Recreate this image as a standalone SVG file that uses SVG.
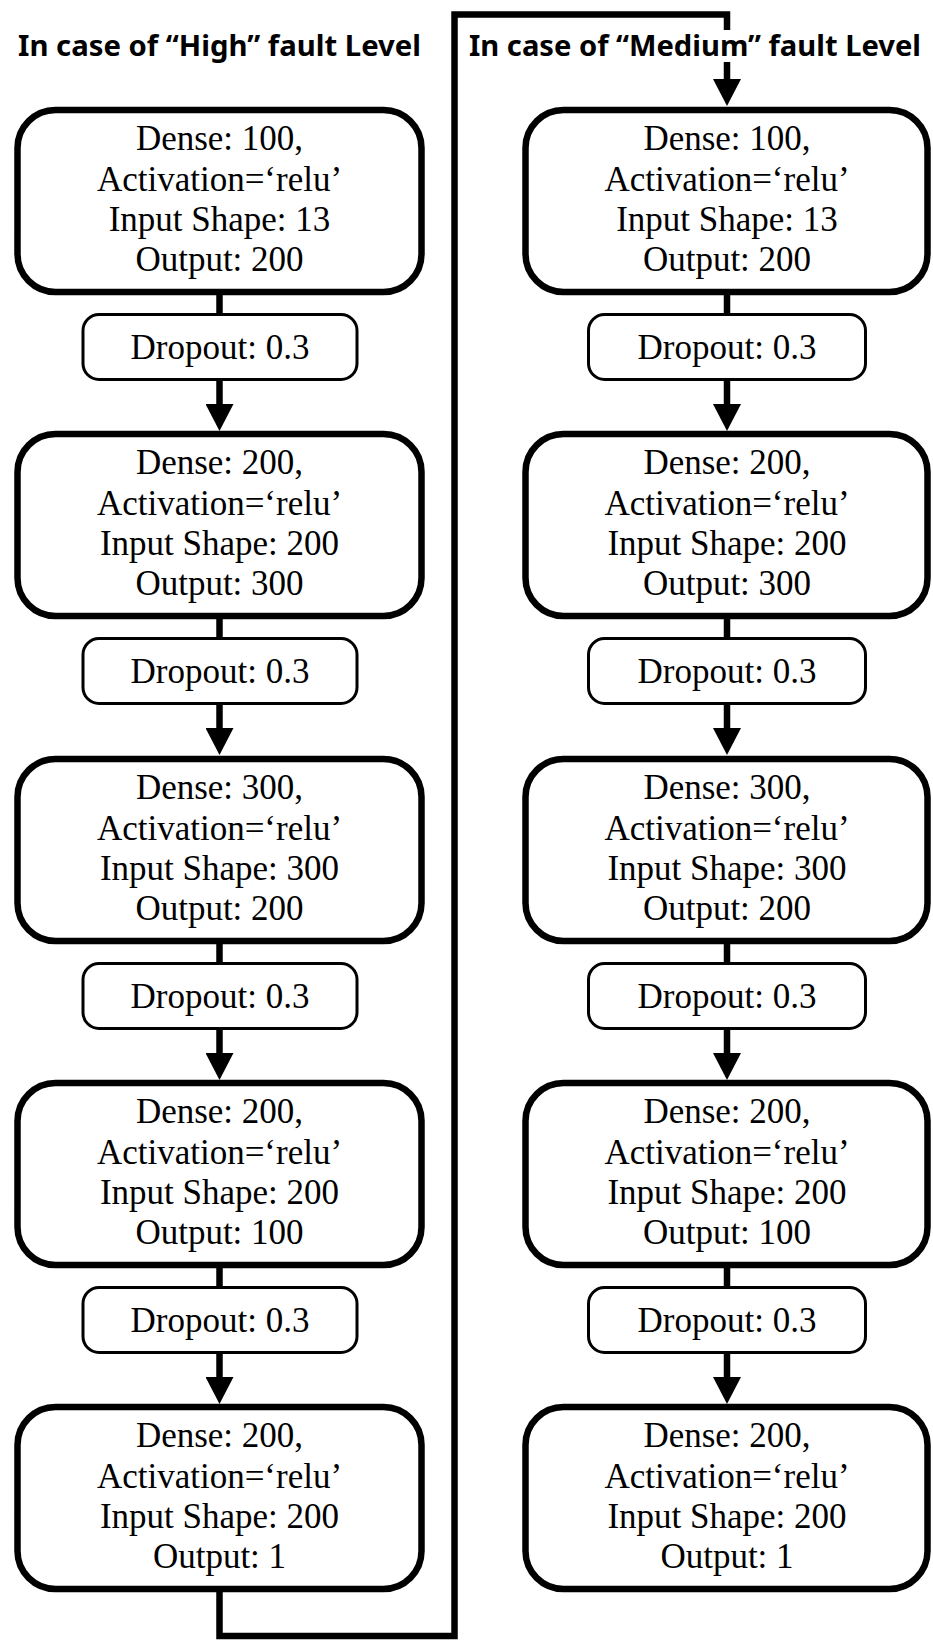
<svg xmlns="http://www.w3.org/2000/svg" width="933" height="1642" viewBox="0 0 933 1642">
<style>
.big{fill:#fff;stroke:#000;stroke-width:6.5}
.drop{fill:#fff;stroke:#000;stroke-width:3}
.title{font-family:"Noto Sans","Liberation Sans",sans-serif;font-weight:bold;font-size:28px;fill:#000}
.c{fill:none;stroke:#000;stroke-width:6.5}
</style>
<defs>
<marker id="ah" markerUnits="userSpaceOnUse" markerWidth="27" markerHeight="28" viewBox="0 0 27 28" refX="0" refY="14" orient="auto">
<path d="M0,0 L27,14 L0,28 z" fill="#000"/>
</marker>
</defs>
<g id="connectors">
<path class="c" d="M219.5,292 V315"/>
<path class="c" d="M219.5,379 V404" marker-end="url(#ah)"/>
<path class="c" d="M219.5,616 V639"/>
<path class="c" d="M219.5,703 V728" marker-end="url(#ah)"/>
<path class="c" d="M219.5,941 V964"/>
<path class="c" d="M219.5,1028 V1053" marker-end="url(#ah)"/>
<path class="c" d="M219.5,1265 V1288"/>
<path class="c" d="M219.5,1352 V1377" marker-end="url(#ah)"/>
<path class="c" d="M219.5,1589 V1636 H454.5 V14.5 H727 V79" marker-end="url(#ah)"/>
<path class="c" d="M727,292 V315"/>
<path class="c" d="M727,379 V404" marker-end="url(#ah)"/>
<path class="c" d="M727,616 V639"/>
<path class="c" d="M727,703 V728" marker-end="url(#ah)"/>
<path class="c" d="M727,941 V964"/>
<path class="c" d="M727,1028 V1053" marker-end="url(#ah)"/>
<path class="c" d="M727,1265 V1288"/>
<path class="c" d="M727,1352 V1377" marker-end="url(#ah)"/>
</g>
<g id="title-high"><text class="title" x="18" y="56" textLength="403" lengthAdjust="spacingAndGlyphs">In case of “High” fault Level</text></g>
<g id="title-medium"><rect x="466" y="30" width="460" height="32" fill="#fff"/><text class="title" x="469" y="56" textLength="452" lengthAdjust="spacingAndGlyphs">In case of “Medium” fault Level</text></g>

<g id="nodes" font-family="Liberation Serif, Times New Roman, serif" font-size="35" text-anchor="middle" fill="#000">
<g id="h1"><rect class="big" x="17.5" y="110" width="404" height="182" rx="38"/><text x="219.5" y="150">Dense: 100,</text><text x="219.5" y="191">Activation=‘relu’</text><text x="219.5" y="231">Input Shape: 13</text><text x="219.5" y="271">Output: 200</text></g>
<g id="hd1"><rect class="drop" x="83" y="314.5" width="274" height="65" rx="16"/><text x="220" y="359">Dropout: 0.3</text></g>
<g id="h2"><rect class="big" x="17.5" y="434" width="404" height="182" rx="38"/><text x="219.5" y="474">Dense: 200,</text><text x="219.5" y="515">Activation=‘relu’</text><text x="219.5" y="555">Input Shape: 200</text><text x="219.5" y="595">Output: 300</text></g>
<g id="hd2"><rect class="drop" x="83" y="638.5" width="274" height="65" rx="16"/><text x="220" y="683">Dropout: 0.3</text></g>
<g id="h3"><rect class="big" x="17.5" y="759" width="404" height="182" rx="38"/><text x="219.5" y="799">Dense: 300,</text><text x="219.5" y="840">Activation=‘relu’</text><text x="219.5" y="880">Input Shape: 300</text><text x="219.5" y="920">Output: 200</text></g>
<g id="hd3"><rect class="drop" x="83" y="963.5" width="274" height="65" rx="16"/><text x="220" y="1008">Dropout: 0.3</text></g>
<g id="h4"><rect class="big" x="17.5" y="1083" width="404" height="182" rx="38"/><text x="219.5" y="1123">Dense: 200,</text><text x="219.5" y="1164">Activation=‘relu’</text><text x="219.5" y="1204">Input Shape: 200</text><text x="219.5" y="1244">Output: 100</text></g>
<g id="hd4"><rect class="drop" x="83" y="1287.5" width="274" height="65" rx="16"/><text x="220" y="1332">Dropout: 0.3</text></g>
<g id="h5"><rect class="big" x="17.5" y="1407" width="404" height="182" rx="38"/><text x="219.5" y="1447">Dense: 200,</text><text x="219.5" y="1488">Activation=‘relu’</text><text x="219.5" y="1528">Input Shape: 200</text><text x="219.5" y="1568">Output: 1</text></g>

<g id="m1"><rect class="big" x="525.5" y="110" width="402" height="182" rx="38"/><text x="727" y="150">Dense: 100,</text><text x="727" y="191">Activation=‘relu’</text><text x="727" y="231">Input Shape: 13</text><text x="727" y="271">Output: 200</text></g>
<g id="md1"><rect class="drop" x="588.5" y="314.5" width="277" height="65" rx="16"/><text x="727" y="359">Dropout: 0.3</text></g>
<g id="m2"><rect class="big" x="525.5" y="434" width="402" height="182" rx="38"/><text x="727" y="474">Dense: 200,</text><text x="727" y="515">Activation=‘relu’</text><text x="727" y="555">Input Shape: 200</text><text x="727" y="595">Output: 300</text></g>
<g id="md2"><rect class="drop" x="588.5" y="638.5" width="277" height="65" rx="16"/><text x="727" y="683">Dropout: 0.3</text></g>
<g id="m3"><rect class="big" x="525.5" y="759" width="402" height="182" rx="38"/><text x="727" y="799">Dense: 300,</text><text x="727" y="840">Activation=‘relu’</text><text x="727" y="880">Input Shape: 300</text><text x="727" y="920">Output: 200</text></g>
<g id="md3"><rect class="drop" x="588.5" y="963.5" width="277" height="65" rx="16"/><text x="727" y="1008">Dropout: 0.3</text></g>
<g id="m4"><rect class="big" x="525.5" y="1083" width="402" height="182" rx="38"/><text x="727" y="1123">Dense: 200,</text><text x="727" y="1164">Activation=‘relu’</text><text x="727" y="1204">Input Shape: 200</text><text x="727" y="1244">Output: 100</text></g>
<g id="md4"><rect class="drop" x="588.5" y="1287.5" width="277" height="65" rx="16"/><text x="727" y="1332">Dropout: 0.3</text></g>
<g id="m5"><rect class="big" x="525.5" y="1407" width="402" height="182" rx="38"/><text x="727" y="1447">Dense: 200,</text><text x="727" y="1488">Activation=‘relu’</text><text x="727" y="1528">Input Shape: 200</text><text x="727" y="1568">Output: 1</text></g>
</g>
</svg>
